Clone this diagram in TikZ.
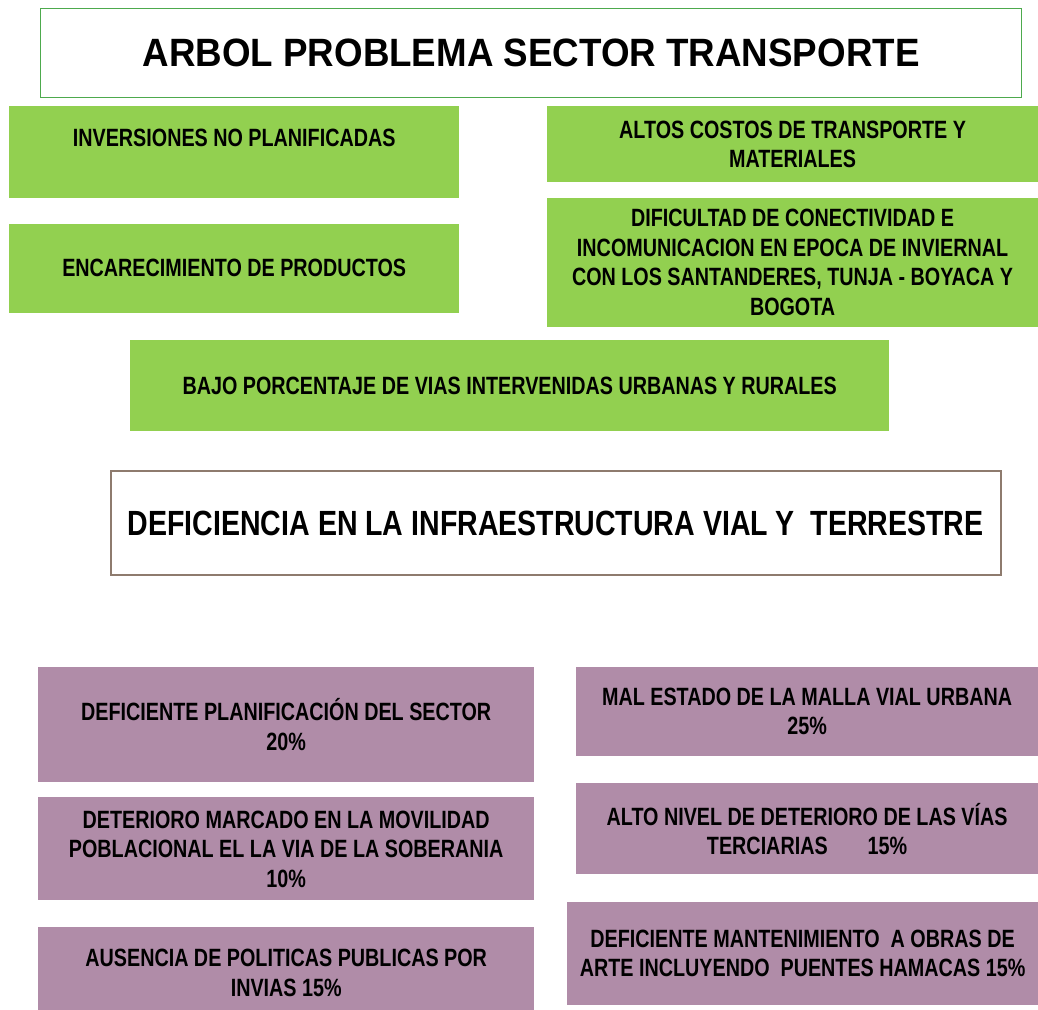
\documentclass[tikz,border=0pt]{standalone}
\usepackage{fontspec}
\setmainfont{Liberation Sans}[FakeStretch=0.79]
\newfontfamily\titlefont{Liberation Sans}[FakeStretch=0.93]
\newfontfamily\probfont{Liberation Sans}[FakeStretch=0.815]
\usetikzlibrary{positioning}
\definecolor{verde}{HTML}{92D050}
\definecolor{verdeborde}{HTML}{4DAA4D}
\definecolor{morado}{HTML}{B08CA8}
\definecolor{cafe}{HTML}{8E7B6E}
\tikzstyle{titulo} = [rectangle, inner sep=0pt, minimum width=981pt, minimum height=89pt, text centered, draw=verdeborde, line width=1.2pt, fill=white, font=\titlefont\bfseries\fontsize{39.5}{46}\selectfont]
\tikzstyle{efecto} = [rectangle, inner sep=0pt, text centered, align=center, fill=verde, font=\bfseries\fontsize{25}{29.5}\selectfont]
\tikzstyle{problema} = [rectangle, inner sep=0pt, minimum width=890pt, minimum height=104pt, text centered, draw=cafe, line width=1.5pt, fill=white, font=\probfont\bfseries\fontsize{35}{42}\selectfont]
\tikzstyle{causa} = [rectangle, inner sep=0pt, text centered, align=center, fill=morado, font=\bfseries\fontsize{25}{29.5}\selectfont]

\begin{document}
\begin{tikzpicture}[x=1pt, y=1pt]
    \useasboundingbox (0,0) rectangle (1038,1009);
    \fill[white] (0,0) rectangle (1038,1009);

    \node (titulo) [titulo, anchor=north west] at (40,1001) {ARBOL PROBLEMA SECTOR TRANSPORTE};

    % efectos
    \node (efe1) [efecto, minimum width=450pt, minimum height=92pt, below=8pt of titulo.south west, anchor=north west, xshift=-31pt]{INVERSIONES NO PLANIFICADAS\\ \mbox{}};
    \node (efe2) [efecto, minimum width=450pt, minimum height=89pt, below=25pt of efe1.south west, anchor=north west]{ENCARECIMIENTO DE PRODUCTOS};
    \node (efe3) [efecto, minimum width=492pt, minimum height=76pt, right=87pt of efe1.north east, anchor=north west]{ALTOS COSTOS DE TRANSPORTE Y\\
    MATERIALES};
    \node (efe4) [efecto, minimum width=492pt, minimum height=129pt, below=15pt of efe3.south west, anchor=north west]{DIFICULTAD DE CONECTIVIDAD E\\
    INCOMUNICACION EN EPOCA DE INVIERNAL\\
    CON LOS SANTANDERES, TUNJA - BOYACA Y\\
    BOGOTA};
    \node (efe5) [efecto, minimum width=759pt, minimum height=91pt, below=27pt of efe2.south west, anchor=north west, xshift=121pt]{BAJO PORCENTAJE DE VIAS INTERVENIDAS URBANAS Y RURALES};

    % problema central
    \node (prob) [problema, below=39pt of efe5.south west, anchor=north west, xshift=-20pt]{DEFICIENCIA EN LA INFRAESTRUCTURA VIAL Y \ TERRESTRE};

    % causas
    \node (cau1) [causa, minimum width=496pt, minimum height=115pt, below=91pt of prob.south west, anchor=north west, xshift=-72pt]{DEFICIENTE PLANIFICACIÓN DEL SECTOR\\
    20\%};
    \node (cau2) [causa, minimum width=496pt, minimum height=103pt, below=15pt of cau1.south west, anchor=north west]{DETERIORO MARCADO EN LA MOVILIDAD\\
    POBLACIONAL EL LA VIA DE LA SOBERANIA\\
    10\%};
    \node (cau3) [causa, minimum width=496pt, minimum height=92pt, below=26pt of cau2.south west, anchor=north west]{AUSENCIA DE POLITICAS PUBLICAS POR\\
    INVIAS 15\%};
    \node (cau4) [causa, minimum width=463pt, minimum height=89pt, right=41pt of cau1.north east, anchor=north west]{MAL ESTADO DE LA MALLA VIAL URBANA\\
    25\%};
    \node (cau5) [causa, minimum width=463pt, minimum height=91pt, below=27pt of cau4.south west, anchor=north west]{ALTO NIVEL DE DETERIORO DE LAS VÍAS\\
    TERCIARIAS\hspace{1.6em}15\%};
    \node (cau6) [causa, minimum width=472pt, minimum height=103pt, below=27pt of cau5.south west, anchor=north west, xshift=-9pt]{DEFICIENTE MANTENIMIENTO \ A OBRAS DE\\
    ARTE INCLUYENDO \ PUENTES HAMACAS 15\%};

\end{tikzpicture}
\end{document}
